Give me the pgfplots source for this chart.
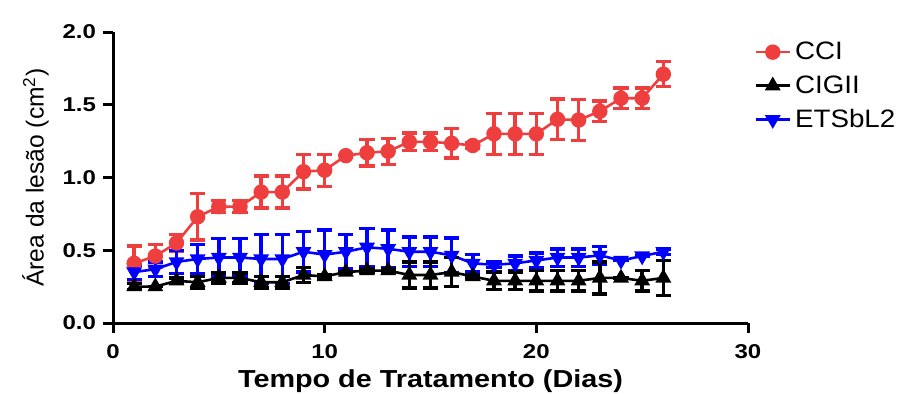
\documentclass[border=0pt]{standalone}
\usepackage{fontspec}
\setmainfont{Liberation Sans}
\newfontfamily\tickfont{Liberation Sans}[FakeStretch=1.2]
\newfontfamily\xlabfont{Liberation Sans}[FakeStretch=1.17]
\newfontfamily\legfont{Liberation Sans}[FakeStretch=1.1]
\usepackage{pgfplots}
\pgfplotsset{compat=1.18}
\usepackage{pgfplotstable}
\definecolor{cred}{RGB}{238,62,62}
\definecolor{cblue}{RGB}{0,0,255}

\pgfplotstableread{
x y e
1 0.41 0.12
2 0.46 0.08
3 0.55 0.06
4 0.73 0.16
5 0.80 0.04
6 0.80 0.04
7 0.90 0.11
8 0.90 0.11
9 1.04 0.12
10 1.05 0.11
11 1.15 0.00
12 1.17 0.09
13 1.18 0.09
14 1.245 0.06
15 1.245 0.06
16 1.235 0.10
17 1.22 0.02
18 1.30 0.14
19 1.30 0.14
20 1.30 0.14
21 1.40 0.14
22 1.395 0.14
23 1.455 0.07
24 1.545 0.07
25 1.545 0.07
26 1.71 0.086
}\tcci

\pgfplotstableread{
x y e
1 0.25 0.02
2 0.25 0.00
3 0.29 0.02
4 0.28 0.04
5 0.31 0.035
6 0.31 0.035
7 0.28 0.04
8 0.28 0.04
9 0.33 0.05
10 0.32 0.01
11 0.35 0.00
12 0.36 0.01
13 0.36 0.01
14 0.33 0.09
15 0.33 0.09
16 0.35 0.10
17 0.32 0.01
18 0.29 0.06
19 0.29 0.06
20 0.29 0.07
21 0.29 0.07
22 0.29 0.07
23 0.31 0.11
24 0.31 0.00
25 0.29 0.07
26 0.31 0.12
}\tcigii

\pgfplotstableread{
x y e
1 0.35 0.05
2 0.37 0.05
3 0.42 0.08
4 0.44 0.10
5 0.45 0.13
6 0.45 0.13
7 0.44 0.17
8 0.44 0.17
9 0.49 0.14
10 0.47 0.17
11 0.49 0.12
12 0.52 0.13
13 0.51 0.13
14 0.49 0.10
15 0.49 0.10
16 0.465 0.12
17 0.41 0.06
18 0.40 0.02
19 0.41 0.05
20 0.43 0.05
21 0.45 0.06
22 0.45 0.06
23 0.465 0.06
24 0.43 0.00
25 0.46 0.00
26 0.49 0.02
}\tets

\begin{document}
\begin{tikzpicture}
\begin{axis}[
  scale only axis,
  width=317.5pt, height=145.5pt,
  xmin=0, xmax=30, ymin=0, ymax=2,
  axis lines=left,
  axis line style={-, line width=1.5pt},
  xtick={0,10,20,30},
  ytick={0,0.5,1,1.5,2},
  yticklabel style={/pgf/number format/fixed, /pgf/number format/fixed zerofill, /pgf/number format/precision=1},
  xticklabel style={yshift=-2pt},
  /pgf/number format/assume math mode=true,
  tick label style={font=\tickfont\bfseries\fontsize{10}{11}\selectfont},
  tick align=outside,
  major tick length=5pt,
  tick style={line width=1.5pt, black},
  xlabel={\xlabfont\bfseries Tempo de Tratamento (Dias)},
  xlabel style={yshift=1pt},
  ylabel={Área da lesão (cm\textsuperscript{2})},
  label style={font=\fontsize{12.3}{14}\selectfont},
  legend style={at={(1.0,0.995)}, anchor=north west, draw=none, fill=none,
    font=\legfont\fontsize{12.6}{14}\selectfont, row sep=2.5pt},
  legend cell align=left,
  error bars/y dir=both,
  error bars/y explicit,
  error bars/error bar style={line width=1.7pt},
  error bars/error mark options={rotate=90, mark size=3.8pt, line width=1.7pt},
]
\addplot[cred, line width=1.3pt, mark=*, mark size=3.2pt, mark options={solid}]
  table[x=x, y=y, y error=e]{\tcci};
\addlegendentry{CCI}
\addplot[cblue, line width=1.3pt, mark=triangle*, mark size=3.3pt, mark options={rotate=180}, forget plot]
  table[x=x, y=y, y error=e]{\tets};
\addplot[black, line width=1.3pt, mark=triangle*, mark size=3.3pt]
  table[x=x, y=y, y error=e]{\tcigii};
\addlegendentry{CIGII}
\addlegendimage{cblue, line width=1.3pt, mark=triangle*, mark size=3.3pt, mark options={rotate=180}}
\addlegendentry{ETSbL2}
\node[font=\bfseries\fontsize{13}{14}\selectfont, anchor=base west] at (rel axis cs:0.03,1.025) {c};
\end{axis}
\pgfresetboundingbox
\path (current axis.south west) ++(-56.5pt,-35pt) rectangle ++(452pt,196.5pt);
\end{tikzpicture}
\end{document}
